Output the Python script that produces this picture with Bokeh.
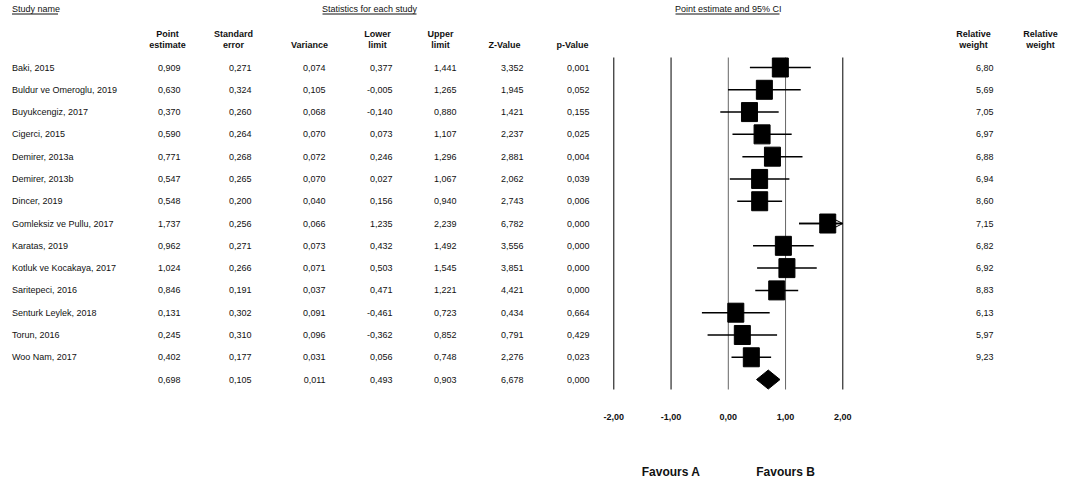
from bokeh.plotting import figure
from bokeh.models import Range1d, ColumnDataSource, Arrow, OpenHead
from bokeh.core.properties import value
from bokeh.embed import file_html
from bokeh.resources import INLINE

# ---------------- data ----------------
studies = ["Baki, 2015", "Buldur ve Omeroglu, 2019", "Buyukcengiz, 2017", "Cigerci, 2015",
           "Demirer, 2013a", "Demirer, 2013b", "Dincer, 2019", "Gomleksiz ve Pullu, 2017",
           "Karatas, 2019", "Kotluk ve Kocakaya, 2017", "Saritepeci, 2016",
           "Senturk Leylek, 2018", "Torun, 2016", "Woo Nam, 2017"]
point_est = [0.909, 0.630, 0.370, 0.590, 0.771, 0.547, 0.548, 1.737, 0.962, 1.024, 0.846, 0.131, 0.245, 0.402]
std_err = [0.271, 0.324, 0.260, 0.264, 0.268, 0.265, 0.200, 0.256, 0.271, 0.266, 0.191, 0.302, 0.310, 0.177]
variance = [0.074, 0.105, 0.068, 0.070, 0.072, 0.070, 0.040, 0.066, 0.073, 0.071, 0.037, 0.091, 0.096, 0.031]
lower = [0.377, -0.005, -0.140, 0.073, 0.246, 0.027, 0.156, 1.235, 0.432, 0.503, 0.471, -0.461, -0.362, 0.056]
upper = [1.441, 1.265, 0.880, 1.107, 1.296, 1.067, 0.940, 2.239, 1.492, 1.545, 1.221, 0.723, 0.852, 0.748]
z_value = [3.352, 1.945, 1.421, 2.237, 2.881, 2.062, 2.743, 6.782, 3.556, 3.851, 4.421, 0.434, 0.791, 2.276]
p_value = [0.001, 0.052, 0.155, 0.025, 0.004, 0.039, 0.006, 0.000, 0.000, 0.000, 0.000, 0.664, 0.429, 0.023]
rel_weight = [6.80, 5.69, 7.05, 6.97, 6.88, 6.94, 8.60, 7.15, 6.82, 6.92, 8.83, 6.13, 5.97, 9.23]

summary = dict(point=0.698, se=0.105, var=0.011, lower=0.493, upper=0.903, z=6.678, p=0.000)

axis_ticks = [-2, -1, 0, 1, 2]
tick_labels = ["-2,00", "-1,00", "0,00", "1,00", "2,00"]
favours = ["Favours A", "Favours B"]
favours_x = [-1, 1]

# ---------------- layout ----------------
W, H = 1067, 483
FONT = "Liberation Sans"
TXT = "#111111"
n = len(studies)
row0_px, row_step = 67.0, 22.29
px_scale = 57.25
x_m2 = 613.3  # pixel of -2

p = figure(width=W, height=H, x_range=Range1d(0, W), y_range=Range1d(H, 0),
           output_backend="svg", toolbar_location=None, min_border=0,
           x_axis_location=None, y_axis_location=None)
p.grid.visible = False
p.outline_line_color = None
p.extra_x_ranges = {"es": Range1d(-2 - x_m2 / px_scale, -2 + (W - x_m2) / px_scale)}
p.extra_y_ranges = {"row": Range1d((H - row0_px) / row_step, -row0_px / row_step)}


def fmt(v, d=3):
    return f"{v:.{d}f}".replace(".", ",")


def txt(x, y, s, align="left", bold=False, size="9px", baseline="middle", **kw):
    p.text(x=[x], y=[y], text=[s], text_align=align, text_baseline=baseline,
           text_font=value(FONT), text_font_size=value(size),
           text_font_style="bold" if bold else "normal", text_color=TXT, **kw)


# titles with underline
TY = 8
txt(11.5, TY, "Study name")
txt(369, TY, "Statistics for each study", align="center")
txt(0, TY, "Point estimate and 95% CI", align="center", x_range_name="es")
p.segment(x0=[11.5, 322, 675], y0=[13.5] * 3, x1=[57.5, 416, 779], y1=[13.5] * 3,
          line_color=TXT, line_width=1)

# column headers
L1, L2 = 33, 44
headers = [(167, "Point", "estimate"), (233, "Standard", "error"), (309, None, "Variance"),
           (377, "Lower", "limit"), (440, "Upper", "limit"), (504, None, "Z-Value"),
           (572, None, "p-Value"), (973, "Relative", "weight"), (1040, "Relative", "weight")]
for x, a, b in headers:
    if a:
        txt(x, L1, a, align="center", bold=True)
    txt(x, L2, b, align="center", bold=True)

# table body
rows = list(range(n))
src = ColumnDataSource(dict(
    row=rows, name=studies,
    pe=[fmt(v) for v in point_est], se=[fmt(v) for v in std_err],
    var=[fmt(v) for v in variance], lo=[fmt(v) for v in lower],
    up=[fmt(v) for v in upper], z=[fmt(v) for v in z_value],
    pv=[fmt(v) for v in p_value], w=[fmt(v, 2) for v in rel_weight]))

common = dict(y="row", y_range_name="row", text_baseline="middle",
              text_font=value(FONT), text_font_size=value("9px"), text_color=TXT)
p.text(x=11.5, text="name", text_align="left", source=src, **common)
cols = [("pe", 180), ("se", 251), ("var", 325), ("lo", 392), ("up", 456),
        ("z", 523), ("pv", 589), ("w", 993)]
for c, x in cols:
    p.text(x=x, text=c, text_align="right", source=src, **common)

sum_src = ColumnDataSource(dict(
    row=[n], pe=[fmt(summary["point"])], se=[fmt(summary["se"])], var=[fmt(summary["var"])],
    lo=[fmt(summary["lower"])], up=[fmt(summary["upper"])], z=[fmt(summary["z"])],
    pv=[fmt(summary["p"])]))
for c, x in cols[:-1]:
    p.text(x=x, text=c, text_align="right", source=sum_src, **common)

# forest plot vertical lines
line_cols = ["black" if t in (-2, -1, 2) else "#666666" for t in axis_ticks]
p.segment(x0=axis_ticks, y0=57, x1=axis_ticks, y1=389, x_range_name="es",
          line_color=line_cols, line_width=1)

# CIs
xmax = axis_ticks[-1]
ci = ColumnDataSource(dict(row=rows, lo=lower, up=[min(u, xmax) for u in upper], pe=point_est))
p.segment(x0="lo", y0="row", x1="up", y1="row", source=ci, x_range_name="es",
          y_range_name="row", line_color="black", line_width=1.5)
for i, u in enumerate(upper):
    if u > xmax:
        p.add_layout(Arrow(end=OpenHead(size=8, line_width=1, line_color="black"),
                           x_start=lower[i], y_start=i, x_end=xmax, y_end=i,
                           x_range_name="es", y_range_name="row",
                           line_color="black", line_width=1.5))
p.rect(x="pe", y="row", width=16, height=19, width_units="screen", height_units="screen",
       source=ci, x_range_name="es", y_range_name="row",
       fill_color="black", line_color="black")

# summary diamond
h = 9.5 / row_step
p.patch(x=[summary["lower"], summary["point"], summary["upper"], summary["point"]],
        y=[n, n - h, n, n + h], x_range_name="es", y_range_name="row",
        fill_color="black", line_color="black")

# tick labels
p.text(x=axis_ticks, y=416, text=tick_labels, x_range_name="es", text_align="center",
       text_baseline="middle", text_font=value(FONT), text_font_size=value("9px"),
       text_font_style="bold", text_color=TXT)

# favours
p.text(x=favours_x, y=471, text=favours, x_range_name="es", text_align="center",
       text_baseline="middle", text_font=value(FONT), text_font_size=value("12px"),
       text_font_style="bold", text_color=TXT)

open("out.html", "w").write(file_html(p, INLINE))
